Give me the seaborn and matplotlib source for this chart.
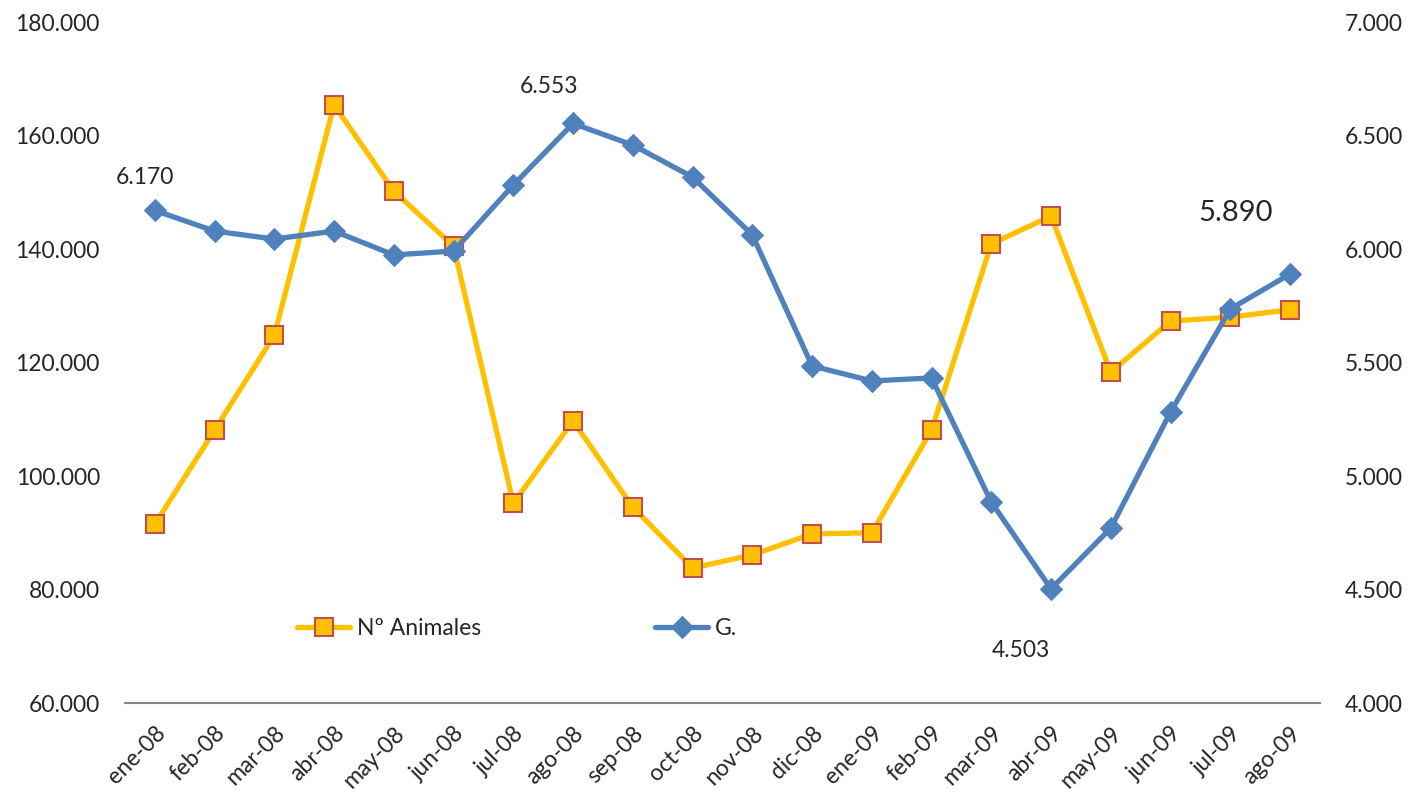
import numpy as np
import pandas as pd
import matplotlib
matplotlib.use('Agg')
import matplotlib.pyplot as plt
import seaborn as sns
from matplotlib.ticker import FuncFormatter, FixedLocator

# --- data ---
months = ['ene-08', 'feb-08', 'mar-08', 'abr-08', 'may-08', 'jun-08', 'jul-08',
          'ago-08', 'sep-08', 'oct-08', 'nov-08', 'dic-08', 'ene-09', 'feb-09',
          'mar-09', 'abr-09', 'may-09', 'jun-09', 'jul-09', 'ago-09']
animales = [91500, 108100, 124800, 165400, 150200, 140500, 95200, 109700, 94500, 83800,
            86100, 89800, 90000, 108100, 140900, 145800, 118300, 127300, 128000, 129300]
g_values = [6170, 6079, 6044, 6079, 5974, 5991, 6282, 6553, 6458, 6317,
            6062, 5485, 5419, 5432, 4885, 4503, 4771, 5282, 5736, 5890]
labelled = {'ene-08': 6170, 'ago-08': 6553, 'abr-09': 4503, 'ago-09': 5890}

df = pd.DataFrame({'mes': months, 'animales': animales, 'g': g_values})
df['pos'] = np.arange(len(df))

sns.set_style('white')
plt.rcParams['font.family'] = ['Lato', 'DejaVu Sans']

fig = plt.figure(figsize=(14.12, 8.01), dpi=100)
ax = fig.add_axes([0.0885, 0.1223, 0.8463, 0.8502])
ax2 = ax.twinx()

yellow = '#FFC000'
blue = '#4F81BD'

sns.lineplot(data=df, x='pos', y='animales', ax=ax, color=yellow, linewidth=3.8,
             marker='s', markersize=13, markerfacecolor=yellow,
             markeredgecolor='#C0504D', markeredgewidth=1.5, label='Nº Animales', legend=False)
sns.lineplot(data=df, x='pos', y='g', ax=ax2, color=blue, linewidth=3.8,
             marker='D', markersize=11, markerfacecolor=blue,
             markeredgecolor=blue, label='G.', legend=False)

ax.set_xlim(-0.5, len(months) - 0.5)
ax.set_ylim(60000, 180000)
ax2.set_ylim(4000, 7000)
ax.set_yticks(np.arange(60000, 180001, 20000))
ax2.set_yticks(np.arange(4000, 7001, 500))

fmt = FuncFormatter(lambda v, p: f'{v:,.0f}'.replace(',', '.'))
ax.yaxis.set_major_formatter(fmt)
ax2.yaxis.set_major_formatter(fmt)

fs = 16.5
ax.set_xticks(df['pos'])
ax.set_xticklabels(months, rotation=45, ha='right', rotation_mode='anchor')
ax.xaxis.set_minor_locator(FixedLocator(np.arange(-0.5, len(months), 1)))
ax.tick_params(axis='x', which='major', length=0, pad=14, labelsize=fs)
ax.tick_params(axis='x', which='minor', length=7, width=1.5, color='#868686', direction='out')
ax.tick_params(axis='y', length=0, labelsize=fs, pad=18)
ax2.tick_params(axis='y', length=0, labelsize=fs, pad=18)
ax.set_xlabel('')
ax.set_ylabel('')
ax2.set_ylabel('')

for a in (ax, ax2):
    for s in ('top', 'left', 'right', 'bottom'):
        a.spines[s].set_visible(False)
ax.spines['bottom'].set_visible(True)
ax.spines['bottom'].set_color('#868686')
ax.spines['bottom'].set_linewidth(1.5)
ax.grid(False)
ax2.grid(False)

# data labels
for mes, val in labelled.items():
    i = months.index(mes)
    txt = f'{val:,.0f}'.replace(',', '.')
    if mes == 'ene-08':
        ax2.text(i - 0.17, val + 100, txt, ha='center', va='bottom', fontsize=fs)
    elif mes == 'ago-08':
        ax2.text(i - 0.4, val + 115, txt, ha='center', va='bottom', fontsize=fs)
    elif mes == 'abr-09':
        ax2.text(i - 0.5, val - 225, txt, ha='center', va='top', fontsize=fs)
    else:
        ax2.text(i - 0.92, val + 210, txt, ha='center', va='bottom', fontsize=21)

h1, l1 = ax.get_legend_handles_labels()
h2, l2 = ax2.get_legend_handles_labels()
ax2.legend(h1 + h2, l1 + l2, loc='center left', bbox_to_anchor=(0.127, 0.109), ncol=2,
           frameon=False, fontsize=fs, handlelength=2.3, columnspacing=7.6, handletextpad=0.3)

fig.savefig('out.png', dpi=100)
